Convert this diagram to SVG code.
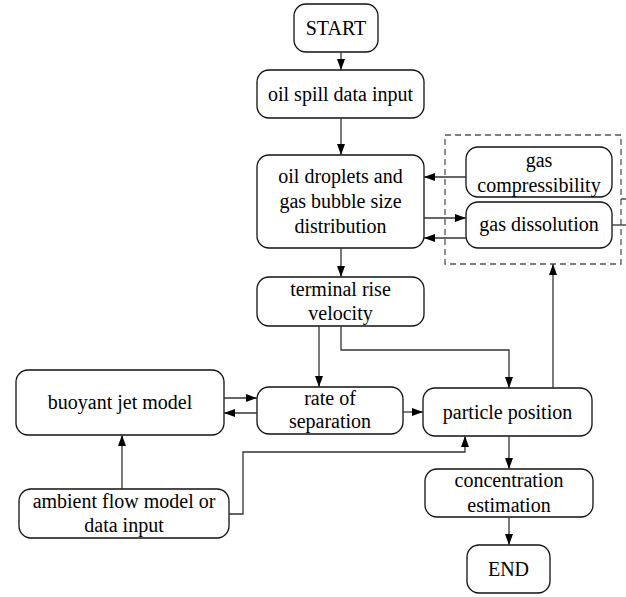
<svg xmlns="http://www.w3.org/2000/svg" width="626" height="597" viewBox="0 0 626 597">
<style>
.box{fill:#fff;stroke:#111;stroke-width:1.3}
.t{font-size:20px;fill:#000;text-anchor:middle}
.c{fill:none;stroke:#333;stroke-width:1.3}
.dash{fill:none;stroke:#555;stroke-width:1.3;stroke-dasharray:6,4}
</style>
<defs>
<marker id="ah" markerUnits="userSpaceOnUse" markerWidth="12" markerHeight="10" refX="11" refY="4" orient="auto">
<path d="M0,0 L11,4 L0,8 Z" fill="#000"/>
</marker>
</defs>
<rect width="626" height="597" fill="#fff"/>
<g id="dashed-group">
<rect class="dash" x="445" y="135" width="176" height="129"/>
</g>
<g font-family="Liberation Serif, Tinos, Times New Roman, DejaVu Serif, serif">
<g id="start"><rect class="box" x="294" y="4" width="84" height="48" rx="12"/><text class="t" x="336" y="34.5">START</text></g>
<g id="oil-spill"><rect class="box" x="257" y="70" width="167" height="48" rx="12"/><text class="t" x="340.5" y="100.5">oil spill data input</text></g>
<g id="oil-droplets"><rect class="box" x="257" y="155" width="167" height="93" rx="12"/><text class="t" x="340.5" y="183">oil droplets and</text><text class="t" x="340.5" y="208">gas bubble size</text><text class="t" x="340.5" y="232.5">distribution</text></g>
<g id="gas-compressibility"><rect class="box" x="466" y="147" width="146" height="50" rx="12"/><text class="t" x="539" y="166.5">gas</text><text class="t" x="539" y="191.5">compressibility</text></g>
<g id="gas-dissolution"><rect class="box" x="466" y="202" width="146" height="46" rx="12"/><text class="t" x="539" y="230.5">gas dissolution</text></g>
<g id="terminal"><rect class="box" x="257" y="277" width="167" height="49" rx="12"/><text class="t" x="340.5" y="296">terminal rise</text><text class="t" x="340.5" y="320">velocity</text></g>
<g id="buoyant"><rect class="box" x="16" y="370" width="208" height="65" rx="12"/><text class="t" x="120" y="408.5">buoyant jet model</text></g>
<g id="rate"><rect class="box" x="257" y="387" width="146" height="47" rx="12"/><text class="t" x="330" y="405">rate of</text><text class="t" x="330" y="428">separation</text></g>
<g id="particle"><rect class="box" x="423" y="388" width="169" height="48" rx="12"/><text class="t" x="507.5" y="418.5">particle position</text></g>
<g id="ambient"><rect class="box" x="19" y="489" width="210" height="49" rx="12"/><text class="t" x="124" y="508">ambient flow model or</text><text class="t" x="124" y="532">data input</text></g>
<g id="concentration"><rect class="box" x="425" y="469" width="168" height="48" rx="12"/><text class="t" x="509" y="487">concentration</text><text class="t" x="509" y="511.5">estimation</text></g>
<g id="end"><rect class="box" x="467" y="545" width="83" height="48" rx="12"/><text class="t" x="508.5" y="575.5">END</text></g>
</g>
<g id="connectors">
<path class="c" d="M341,52 V70" marker-end="url(#ah)"/>
<path class="c" d="M341,118 V155" marker-end="url(#ah)"/>
<path class="c" d="M341,248 V277" marker-end="url(#ah)"/>
<path class="c" d="M466,177 H424" marker-end="url(#ah)"/>
<path class="c" d="M424,218 H466" marker-end="url(#ah)"/>
<path class="c" d="M466,238 H424" marker-end="url(#ah)"/>
<path class="c" d="M612,225 H626"/>
<path class="c" d="M621,199 H626"/>
<path class="c" d="M319,326 V387" marker-end="url(#ah)"/>
<path class="c" d="M341,326 V350 H509 V388" marker-end="url(#ah)"/>
<path class="c" d="M224,398 H257" marker-end="url(#ah)"/>
<path class="c" d="M257,413 H224" marker-end="url(#ah)"/>
<path class="c" d="M403,412 H423" marker-end="url(#ah)"/>
<path class="c" d="M553,388 V264" marker-end="url(#ah)"/>
<path class="c" d="M122,489 V435" marker-end="url(#ah)"/>
<path class="c" d="M229,514 H243 V452 H465 V436" marker-end="url(#ah)"/>
<path class="c" d="M509,436 V469" marker-end="url(#ah)"/>
<path class="c" d="M509,517 V545" marker-end="url(#ah)"/>
</g>
</svg>
